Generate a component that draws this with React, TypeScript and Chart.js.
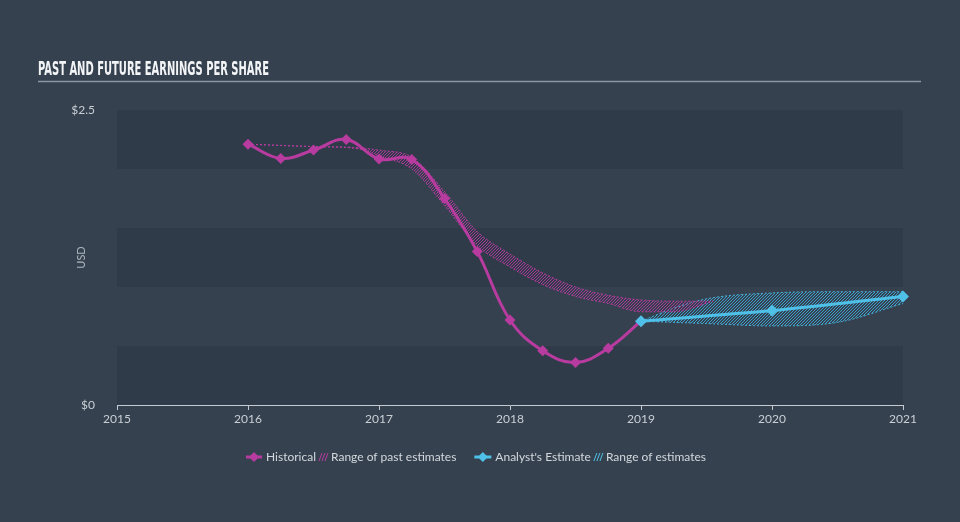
import React, { useEffect, useRef } from "react";
import { Chart, registerables } from "chart.js";

Chart.register(...registerables);

// ---------- data ----------
const chartTitle = "PAST AND FUTURE EARNINGS PER SHARE";
const xTickValues = [2015, 2016, 2017, 2018, 2019, 2020, 2021];
const yTickValues = [0, 2.5];
const bandRanges: number[][] = [
  [0, 0.5],
  [1, 1.5],
  [2, 2.5],
];

const historicalX = [2016, 2016.25, 2016.5, 2016.75, 2017, 2017.25, 2017.5, 2017.75, 2018, 2018.25, 2018.5, 2018.75, 2019];
const historicalY = [2.21, 2.09, 2.16, 2.25, 2.085, 2.08, 1.75, 1.3, 0.72, 0.46, 0.36, 0.48, 0.71];

const estimateX = [2019, 2020, 2021];
const estimateY = [0.71, 0.8, 0.92];

const pastRangeX = [2016, 2016.5, 2016.85, 2017, 2017.25, 2017.5, 2017.75, 2018, 2018.25, 2018.5, 2018.75, 2019, 2019.25, 2019.55];
const pastRangeHigh = [2.21, 2.19, 2.18, 2.16, 2.1, 1.81, 1.47, 1.28, 1.12, 1.0, 0.93, 0.89, 0.88, 0.88];
const pastRangeLow = [2.21, 2.19, 2.17, 2.11, 2.0, 1.69, 1.35, 1.17, 1.02, 0.92, 0.86, 0.79, 0.79, 0.88];

const futureRangeX = [2019, 2019.25, 2019.5, 2020, 2020.5, 2021];
const futureRangeHigh = [0.71, 0.82, 0.9, 0.95, 0.96, 0.96];
const futureRangeLow = [0.71, 0.7, 0.69, 0.67, 0.7, 0.86];

const legendLabels = ["Historical", "Range of past estimates", "Analyst's Estimate", "Range of estimates"];

// ---------- styles ----------
const BG = "#35414f";
const BAND = "#303b49";
const PINK = "#b83ba0";
const CYAN = "#4fc1e9";
const TEXT = "#c9cfd5";
const FONT = "Lato, 'Open Sans', sans-serif";

function pts(xs: number[], ys: number[]) {
  return xs.map((x, i) => ({ x, y: ys[i] }));
}

function makeHatch(color: string): CanvasPattern | string {
  const c = document.createElement("canvas");
  c.width = 3;
  c.height = 3;
  const g = c.getContext("2d");
  if (!g) return color;
  g.fillStyle = color;
  // crisp pixel diagonal "/" line, period 3
  g.fillRect(2, 0, 1, 1);
  g.fillRect(1, 1, 1, 1);
  g.fillRect(0, 2, 1, 1);
  const p = g.createPattern(c, "repeat");
  return p || color;
}

export default function App() {
  const ref = useRef<HTMLCanvasElement | null>(null);

  useEffect(() => {
    document.body.style.margin = "0";
    document.body.style.background = BG;
    const canvas = ref.current;
    if (!canvas) return;

    const pinkHatch = makeHatch("rgba(176,56,156,0.9)");
    const cyanHatch = makeHatch("rgba(62,170,214,0.9)");

    const backgroundPlugin = {
      id: "bgBands",
      beforeDraw(chart: any) {
        const { ctx, chartArea, scales } = chart;
        ctx.save();
        ctx.fillStyle = BG;
        ctx.fillRect(0, 0, chart.width, chart.height);
        ctx.fillStyle = BAND;
        bandRanges.forEach(([a, b]) => {
          const y1 = scales.y.getPixelForValue(b);
          const y2 = scales.y.getPixelForValue(a);
          ctx.fillRect(chartArea.left, y1, chartArea.right - chartArea.left, y2 - y1);
        });
        ctx.font = "bold 19px 'DejaVu Sans Condensed', 'DejaVu Sans', sans-serif";
        ctx.fillStyle = "#f2f4f6";
        ctx.textBaseline = "alphabetic";
        const w = ctx.measureText(chartTitle).width;
        const target = 231;
        ctx.save();
        ctx.translate(38, 75);
        ctx.scale(target / w, 1);
        ctx.fillText(chartTitle, 0, 0);
        ctx.restore();
        ctx.strokeStyle = "#8c96a1";
        ctx.lineWidth = 1.5;
        ctx.beginPath();
        ctx.moveTo(38, 81.5);
        ctx.lineTo(921, 81.5);
        ctx.stroke();
        ctx.restore();
      },
    };

    const legendPlugin = {
      id: "customLegend",
      afterDraw(chart: any) {
        const { ctx } = chart;
        ctx.save();
        ctx.font = `12px ${FONT}`;
        ctx.textBaseline = "middle";
        const cy = 457;
        const items = [
          { kind: "line", color: PINK, text: legendLabels[0], iw: 16, gapAfter: 3 },
          { kind: "hatch", color: PINK, text: legendLabels[1], iw: 8, gapAfter: 18 },
          { kind: "line", color: CYAN, text: legendLabels[2], iw: 17, gapAfter: 3 },
          { kind: "hatch", color: CYAN, text: legendLabels[3], iw: 8, gapAfter: 0 },
        ];
        const iconGap = 4;
        let total = 0;
        items.forEach((it) => {
          total += it.iw + iconGap + ctx.measureText(it.text).width + it.gapAfter;
        });
        let x = chart.width / 2 - 4 - total / 2;
        items.forEach((it) => {
          if (it.kind === "line") {
            ctx.strokeStyle = it.color;
            ctx.lineWidth = 3;
            ctx.beginPath();
            ctx.moveTo(x, cy);
            ctx.lineTo(x + it.iw, cy);
            ctx.stroke();
            ctx.fillStyle = it.color;
            const cx = x + it.iw / 2;
            ctx.beginPath();
            ctx.moveTo(cx, cy - 5);
            ctx.lineTo(cx + 5, cy);
            ctx.lineTo(cx, cy + 5);
            ctx.lineTo(cx - 5, cy);
            ctx.closePath();
            ctx.fill();
          } else {
            ctx.strokeStyle = it.color;
            ctx.lineWidth = 1;
            ctx.beginPath();
            for (let k = 0; k < 3; k++) {
              const ox = x + k * 3;
              ctx.moveTo(ox, cy + 4);
              ctx.lineTo(ox + 3, cy - 4);
            }
            ctx.stroke();
          }
          x += it.iw + iconGap;
          ctx.fillStyle = "#d3d8dd";
          ctx.fillText(it.text, x, cy);
          x += ctx.measureText(it.text).width + it.gapAfter;
        });
        ctx.restore();
      },
    };

    const rangeBase = {
      borderWidth: 1,
      borderDash: [2, 2],
      pointRadius: 0,
      pointHoverRadius: 0,
      cubicInterpolationMode: "monotone" as const,
      order: 2,
      clip: false as const,
    };

    const chart = new Chart(canvas, {
      type: "line",
      data: {
        datasets: [
          {
            ...rangeBase,
            label: "pastHigh",
            data: pts(pastRangeX, pastRangeHigh),
            borderColor: "rgba(190,60,165,0.9)",
            backgroundColor: pinkHatch as any,
            fill: "+1",
          },
          {
            ...rangeBase,
            label: "pastLow",
            data: pts(pastRangeX, pastRangeLow),
            borderColor: "rgba(190,60,165,0.9)",
            fill: false,
          },
          {
            ...rangeBase,
            label: "futureHigh",
            data: pts(futureRangeX, futureRangeHigh),
            borderColor: "rgba(70,185,230,0.9)",
            backgroundColor: cyanHatch as any,
            fill: "+1",
          },
          {
            ...rangeBase,
            label: "futureLow",
            data: pts(futureRangeX, futureRangeLow),
            borderColor: "rgba(70,185,230,0.9)",
            fill: false,
          },
          {
            label: legendLabels[0],
            data: pts(historicalX, historicalY),
            borderColor: PINK,
            backgroundColor: PINK,
            borderWidth: 3,
            tension: 0.4,
            pointStyle: "rectRot",
            pointRadius: 5.5,
            pointBorderWidth: 0,
            pointBackgroundColor: PINK,
            fill: false,
            order: 1,
            clip: false as const,
          },
          {
            label: legendLabels[2],
            data: pts(estimateX, estimateY),
            borderColor: CYAN,
            backgroundColor: CYAN,
            borderWidth: 3,
            tension: 0.3,
            pointStyle: "rectRot",
            pointRadius: 6,
            pointBorderWidth: 0,
            pointBackgroundColor: CYAN,
            fill: false,
            order: 0,
            clip: false as const,
          },
        ],
      },
      options: {
        animation: false,
        responsive: false,
        events: [],
        layout: { padding: { top: 110, right: 57, bottom: 87, left: 0 } },
        plugins: {
          legend: { display: false },
          title: { display: false },
          tooltip: { enabled: false },
        },
        scales: {
          x: {
            type: "linear",
            min: 2015,
            max: 2021,
            afterBuildTicks: (s: any) => {
              s.ticks = xTickValues.map((v) => ({ value: v }));
            },
            afterFit: (s: any) => {
              s.height = 30;
            },
            ticks: {
              color: TEXT,
              font: { family: FONT, size: 12 },
              padding: 2,
              maxRotation: 0,
              autoSkip: false,
              callback: (v: any) => String(v),
            },
            grid: {
              display: true,
              drawOnChartArea: false,
              drawTicks: true,
              tickLength: 5,
              color: "#c3cad1",
              lineWidth: 1,
            },
            border: { display: true, color: "#c3cad1", width: 1 },
          },
          y: {
            type: "linear",
            min: 0,
            max: 2.5,
            afterBuildTicks: (s: any) => {
              s.ticks = yTickValues.map((v) => ({ value: v }));
            },
            afterFit: (s: any) => {
              s.width = 117;
            },
            ticks: {
              color: TEXT,
              font: { family: FONT, size: 12 },
              padding: 14,
              callback: (v: any) => "$" + v,
            },
            grid: { display: false },
            border: { display: false },
            title: {
              display: true,
              text: "USD",
              color: "#aeb6bf",
              font: { family: FONT, size: 11 },
              padding: { top: 75, bottom: 0 },
            },
          },
        },
      },
      plugins: [backgroundPlugin, legendPlugin],
    });

    return () => {
      chart.destroy();
    };
  }, []);

  return (
    <div style={{ width: 960, height: 522, background: BG }}>
      <canvas ref={ref} width={960} height={522} style={{ width: 960, height: 522, display: "block" }} />
    </div>
  );
}
